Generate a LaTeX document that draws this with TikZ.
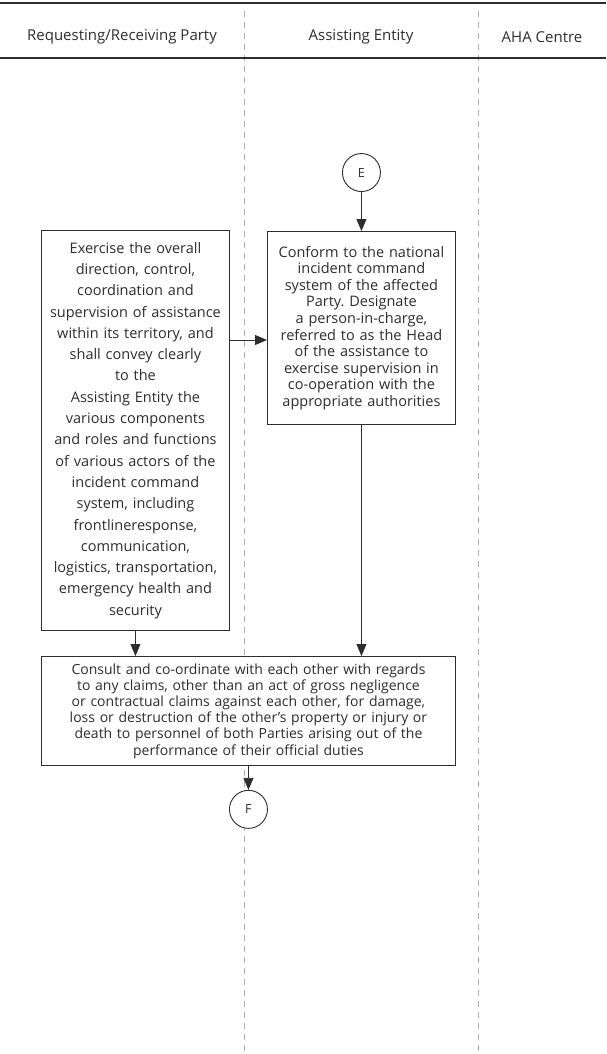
\documentclass[tikz,border=0pt]{standalone}
\usepackage{fontspec}
\setmainfont{Open Sans}
\usetikzlibrary{positioning,arrows.meta}
\definecolor{inkgray}{RGB}{45,45,45}
\definecolor{lanegray}{RGB}{175,175,175}
\frenchspacing

\begin{document}
\begin{tikzpicture}[x=1pt,y=-1pt,font=\fontsize{14.5}{16.6}\selectfont,text=inkgray,
    box/.style={draw=inkgray,fill=white,line width=0.9pt,align=center,inner xsep=0pt,inner ysep=2pt},
    conn/.style={draw=inkgray,fill=white,line width=0.9pt,circle,minimum size=38pt,inner sep=0pt,font=\fontsize{12.5}{14}\selectfont},
    arr/.style={draw=inkgray,line width=0.8pt,-{Triangle[length=12pt,width=10pt]}},
    lane/.style={draw=lanegray,line width=0.8pt,dash pattern=on 6pt off 5pt}]
    \useasboundingbox (0,0) rectangle (606,1054);
    % header and swimlanes
    \draw[lane] (244,11) -- (244,1054);
    \draw[lane] (478,11) -- (478,1054);
    \draw[inkgray,line width=1.1pt] (0,3) -- (606,3);
    \draw[inkgray,line width=1.1pt] (0,58) -- (606,58);
    \node[font=\fontsize{15}{17}\selectfont] (h1) at (122,37) {Requesting/Receiving Party};
    \node[font=\fontsize{15}{17}\selectfont] (h2) at (361,37) {Assisting Entity};
    \node[font=\fontsize{15}{17}\selectfont] (h3) at (542,37) {AHA Centre};
    % boxes
    \node[box,anchor=north west,text width=188pt,minimum height=400pt,font=\fontsize{14.5}{21.3}\selectfont] (direct) at (41,230)
      {Exercise the overall\\direction, control,\\coordination and\\supervision of assistance\\within its territory, and\\shall convey clearly\\to the\\Assisting Entity the\\various components\\and roles and functions\\of various actors of the\\incident command\\system, including\\frontlineresponse,\\communication,\\logistics, transportation,\\emergency health and\\security};
    \node[box,anchor=north west,text width=188pt,minimum height=193pt] (conform) at (267,231)
      {Conform to the national\\incident command\\system of the affected\\Party. Designate\\a person-in-charge,\\referred to as the Head\\of the assistance to\\exercise supervision in\\co-operation with the\\appropriate authorities};
    \node[conn,above=39pt of conform] (E) {E};
    \node[box,anchor=north west,text width=414pt,minimum height=109pt,font=\fontsize{14}{16.2}\selectfont] (consult) at (41,656)
      {Consult and co-ordinate with each other with regards\\to any claims, other than an act of gross negligence\\or contractual claims against each other, for damage,\\loss or destruction of the other’s property or injury or\\death to personnel of both Parties arising out of the\\performance of their official duties};
    \node[conn,below=24pt of consult] (F) {F};
    % connectors
    \draw[arr] (E) -- (conform);
    \draw[arr] (direct.east |- 0,340) -- (conform.west |- 0,340);
    \draw[arr] (direct) -- (direct |- consult.north);
    \draw[arr] (conform) -- (conform |- consult.north);
    \draw[arr] (consult) -- (F);
\end{tikzpicture}
\end{document}
